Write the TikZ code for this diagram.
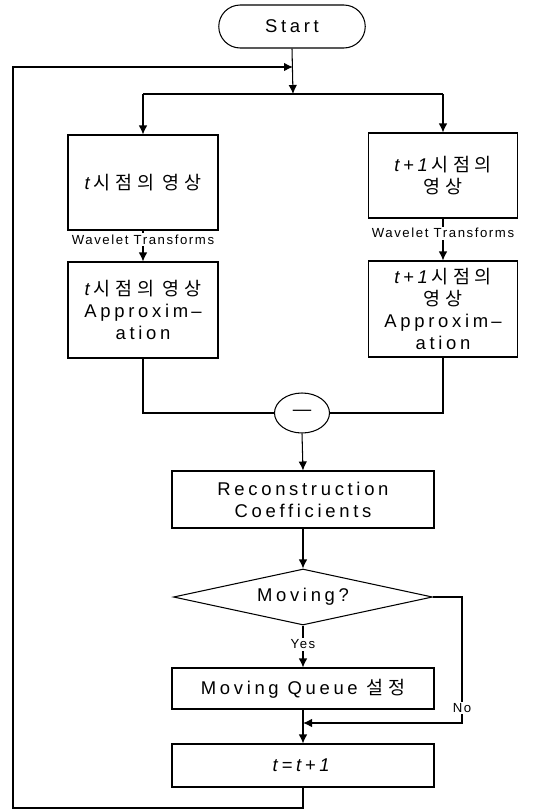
\documentclass[tikz,border=0pt]{standalone}
\usepackage{fontspec}
\setmainfont{Liberation Sans}[LetterSpace=20]
\newfontfamily\krfont{Noto Sans CJK KR}[LetterSpace=25]
\newfontfamily\smallfont{Liberation Sans}[LetterSpace=12]
\usetikzlibrary{positioning, shapes.geometric, shapes.misc, arrows.meta}
\newcommand{\kr}[1]{{\krfont #1}}

\begin{document}
\begin{tikzpicture}[x=0.2mm, y=-0.2mm, >={Latex[length=1.8mm,width=1.7mm]},
    font=\fontsize{10.5}{12.5}\selectfont]
    \tikzset{
        stepbox/.style={draw, line width=0.6pt, align=center, inner sep=1pt},
        flow/.style={line width=0.6pt},
        smalllabel/.style={fill=white, inner sep=1pt, font=\smallfont\fontsize{7.5}{9}\selectfont}
    }
    \useasboundingbox (0,0) rectangle (544,809);

    % Nodes
    \node[stepbox, rounded rectangle, minimum width=3cm, minimum height=0.86cm] (start) at (292,26.5) {Start};
    \node[stepbox, minimum width=3cm, minimum height=1.9cm] (imgt) at (143,182.5) {\textit{t}\kr{시점의 영상}};
    \node[stepbox, minimum width=2.98cm, minimum height=1.7cm] (imgtt) at (443,175.5) {\textit{t+1}\kr{시점의}\\\kr{영상}};
    \node[stepbox, minimum width=3cm, minimum height=1.92cm] (appt) at (143,310) {\textit{t}\kr{시점의 영상}\\Approxim\,--\\ation};
    \node[stepbox, minimum width=2.98cm, minimum height=1.92cm] (apptt) at (443,309) {\textit{t+1}\kr{시점의}\\\kr{영상}\\Approxim\,--\\ation};
    \node[stepbox, ellipse, minimum width=1.1cm, minimum height=0.8cm, inner sep=0pt] (minus) at (302,413) {---};
    \node[stepbox, minimum width=5.24cm, minimum height=1.14cm] (recon) at (303,499.5) {Reconstruction\\Coefficients};
    \node[stepbox, diamond, aspect=4.6, minimum width=5.18cm, minimum height=1.12cm, inner sep=0pt] (moving) at (303,597) {Moving?};
    \node[stepbox, minimum width=5.24cm, minimum height=0.82cm] (queue) at (303,688.5) {Moving Queue \kr{설정}};
    \node[stepbox, minimum width=5.24cm, minimum height=0.86cm] (tinc) at (303,765.5) {\textit{t=t+1}};

    % Points on the connectors
    \coordinate (join) at (293,67);
    \coordinate (split) at (293,94);
    \coordinate (splitl) at (143,94);
    \coordinate (splitr) at (443,94);
    \coordinate (nocorner) at (462,597);
    \coordinate (merge) at (303,723);
    \coordinate (loopcorner) at (13,808);

    % Connectors
    \draw[flow, ->] (start.south) -- (split);
    \draw[flow] (splitl) -- (splitr);
    \draw[flow, ->] (splitl) -- (imgt.north);
    \draw[flow, ->] (splitr) -- (imgtt.north);
    \draw[flow, ->] (imgt.south) -- node[smalllabel, pos=0.3] {Wavelet Transforms} (appt.north);
    \draw[flow, ->] (imgtt.south) -- node[smalllabel, pos=0.35] {Wavelet Transforms} (apptt.north);
    \draw[flow] (appt.south) |- (minus.west);
    \draw[flow] (apptt.south) |- (minus.east);
    \draw[flow, ->] (minus.south) -- (recon.north);
    \draw[flow, ->] (recon.south) -- (moving.north);
    \draw[flow, ->] (moving.south) -- node[smalllabel, pos=0.45] {Yes} (queue.north);
    \draw[flow, ->] (moving.east) -- (nocorner) |- node[smalllabel, pos=0.44] {No} (merge);
    \draw[flow, ->] (queue.south) -- (tinc.north);
    \draw[flow, ->] (tinc.south) |- (loopcorner) |- (join);
\end{tikzpicture}
\end{document}
